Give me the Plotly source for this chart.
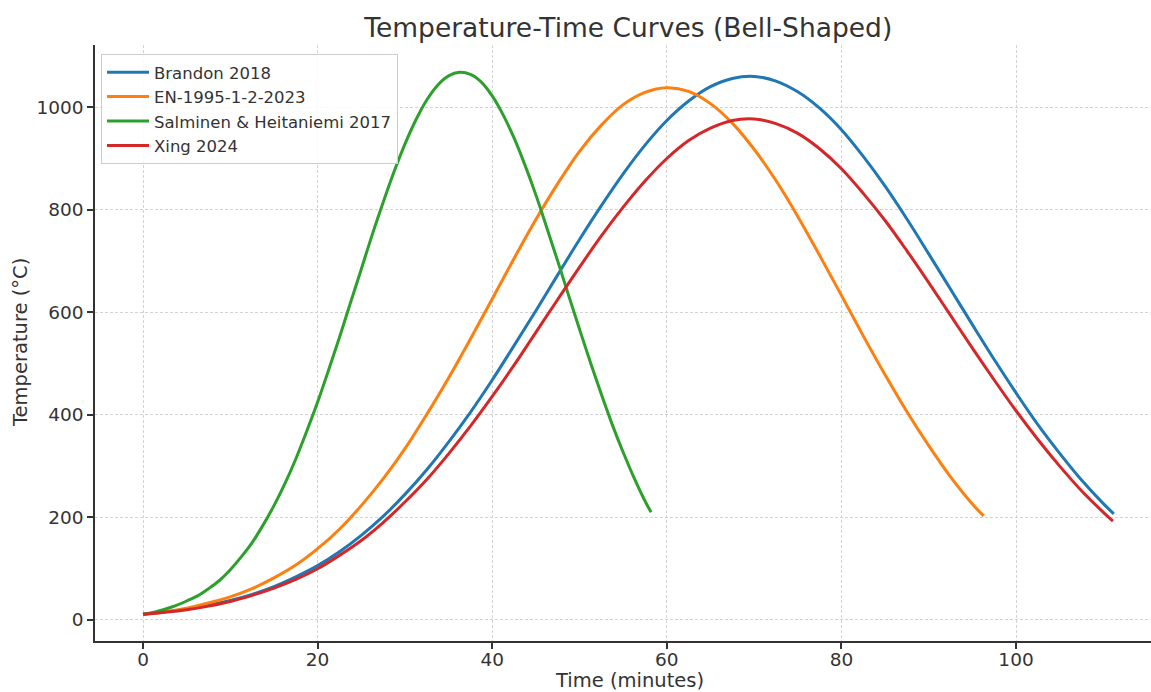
import plotly.graph_objects as go

# ---- data ----
series_names = ["Brandon 2018", "EN-1995-1-2-2023", "Salminen & Heitaniemi 2017", "Xing 2024"]
series_colors = ["#1f77b4", "#ff7f0e", "#2ca02c", "#d62728"]

brandon_t = [0, 2.5, 5, 7.5, 10, 12.5, 15, 17.5, 20, 22.5, 25, 27.5, 30, 32.5, 35, 37.5, 40,
             42.5, 45, 47.5, 50, 52.5, 55, 57.5, 60, 62.5, 65, 67.5, 70, 72.5, 75, 77.5, 80,
             82.5, 85, 87.5, 90, 92.5, 95, 97.5, 100, 102.5, 105, 107.5, 110, 111.2]
brandon_T = [11, 16, 21, 29, 38, 50, 65, 84, 106, 133, 165, 202, 245, 293, 347, 405, 468,
             535, 603, 673, 742, 808, 870, 926, 974, 1012, 1040, 1056, 1060, 1051, 1030, 998, 956,
             904, 846, 782, 714, 645, 576, 508, 443, 381, 325, 273, 227, 207]

en_t = [0, 2.5, 5, 7.5, 10, 12.5, 15, 17.5, 20, 22.5, 25, 27.5, 30, 32.5, 35, 37.5, 40,
        42.5, 45, 47.5, 50, 52.5, 55, 57.5, 60, 62.5, 65, 67.5, 70, 72.5, 75, 77.5, 80,
        82.5, 85, 87.5, 90, 92.5, 95, 96.3]
en_T = [11, 16, 23, 33, 45, 61, 82, 107, 139, 177, 223, 275, 334, 401, 472, 548, 626,
        705, 781, 851, 914, 965, 1005, 1029, 1038, 1031, 1007, 969, 918, 857, 787, 711, 633,
        554, 478, 406, 340, 279, 226, 203]

salminen_t = [0, 1.25, 2.5, 3.75, 5, 6.25, 7.5, 8.75, 10, 11.25, 12.5, 13.75, 15, 16.25, 17.5,
              18.75, 20, 21.25, 22.5, 23.75, 25, 26.25, 27.5, 28.75, 30, 31.25, 32.5, 33.75,
              35, 36.25, 37.5, 38.75, 40, 41.25, 42.5, 43.75, 45, 46.25, 47.5, 48.75, 50,
              51.25, 52.5, 53.75, 55, 56.25, 57.5, 58.2]
salminen_T = [11, 15, 21, 28, 37, 47, 61, 77, 98, 123, 151, 185, 223, 266, 314, 368, 425,
              487, 551, 618, 684, 751, 814, 874, 928, 975, 1014, 1043, 1061, 1068, 1064,
              1049, 1022, 985, 940, 887, 829, 765, 700, 633, 567, 502, 440, 381, 327, 277,
              232, 210]

xing_t = [0, 2.5, 5, 7.5, 10, 12.5, 15, 17.5, 20, 22.5, 25, 27.5, 30, 32.5, 35, 37.5, 40,
          42.5, 45, 47.5, 50, 52.5, 55, 57.5, 60, 62.5, 65, 67.5, 70, 72.5, 75, 77.5, 80,
          82.5, 85, 87.5, 90, 92.5, 95, 97.5, 100, 102.5, 105, 107.5, 110, 111.1]
xing_T = [11, 15, 20, 27, 36, 48, 62, 79, 100, 126, 155, 190, 230, 274, 324, 378, 436,
          497, 561, 625, 688, 749, 805, 856, 900, 935, 959, 974, 977, 968, 949, 919, 880,
          832, 779, 720, 658, 594, 530, 468, 408, 352, 300, 252, 210, 193]

x_ticks = [0, 20, 40, 60, 80, 100]
y_ticks = [0, 200, 400, 600, 800, 1000]

series = [(brandon_t, brandon_T), (en_t, en_T), (salminen_t, salminen_T), (xing_t, xing_T)]

fig = go.Figure()
for (t, T), name, color in zip(series, series_names, series_colors):
    fig.add_trace(go.Scatter(
        x=t, y=T, mode="lines", name=name,
        line=dict(color=color, width=3, shape="spline", smoothing=1.0),
    ))

font_family = "DejaVu Sans, Liberation Sans, sans-serif"
text_color = "#333333"

W, H = 1151, 692
fig.update_layout(
    width=W, height=H,
    margin=dict(l=95, r=0, t=45, b=51, autoexpand=False),
    paper_bgcolor="white", plot_bgcolor="white",
    font=dict(family=font_family, color=text_color, size=18),
    title=dict(text="Temperature-Time Curves (Bell-Shaped)",
               x=0.505, xref="paper", xanchor="center",
               y=1 - 28 / H, yref="container", yanchor="middle",
               font=dict(size=26.5, color=text_color)),
    showlegend=True,
    legend=dict(x=0.0057, y=0.985, xanchor="left", yanchor="top",
                bgcolor="rgba(255,255,255,0.85)", bordercolor="#cccccc", borderwidth=1,
                font=dict(size=16.5, color=text_color), tracegroupgap=0,
                itemwidth=42),
    annotations=[
        dict(text="Time (minutes)", xref="paper", yref="paper",
             x=(629 - 95) / 1056, y=(641 - 681) / 596, xanchor="center", yanchor="middle",
             showarrow=False, font=dict(size=19.5, color=text_color)),
        dict(text="Temperature (°C)", xref="paper", yref="paper",
             x=(20 - 95) / 1056, y=(641 - 343) / 596, xanchor="center", yanchor="middle",
             textangle=-90, showarrow=False, font=dict(size=19.5, color=text_color)),
    ],
)

fig.update_xaxes(
    range=[-5.5, 115.46], tickvals=x_ticks, ticktext=[str(v) for v in x_ticks],
    showline=True, linecolor="#333333", linewidth=1.5, mirror=False,
    ticks="outside", ticklen=6, tickwidth=1.5, tickcolor="#333333",
    showgrid=True, gridcolor="#d3d3d3", gridwidth=1, griddash="3px,2px",
    zeroline=False, tickfont=dict(size=18.5, color=text_color), automargin=False,
    ticklabelstandoff=-5,
)
fig.update_yaxes(
    range=[-41, 1121.3], tickvals=y_ticks, ticktext=[str(v) for v in y_ticks],
    showline=True, linecolor="#333333", linewidth=1.5, mirror=False,
    ticks="outside", ticklen=6, tickwidth=1.5, tickcolor="#333333",
    showgrid=True, gridcolor="#d3d3d3", gridwidth=1, griddash="3px,2px",
    zeroline=False, tickfont=dict(size=18.5, color=text_color), automargin=False,
)

# remove the default 8px page margin so the figure fills the window exactly
fig.write_html("out.html",
               config={"displayModeBar": False},
               post_script="document.body.style.margin='0';document.body.style.overflow='hidden';")
